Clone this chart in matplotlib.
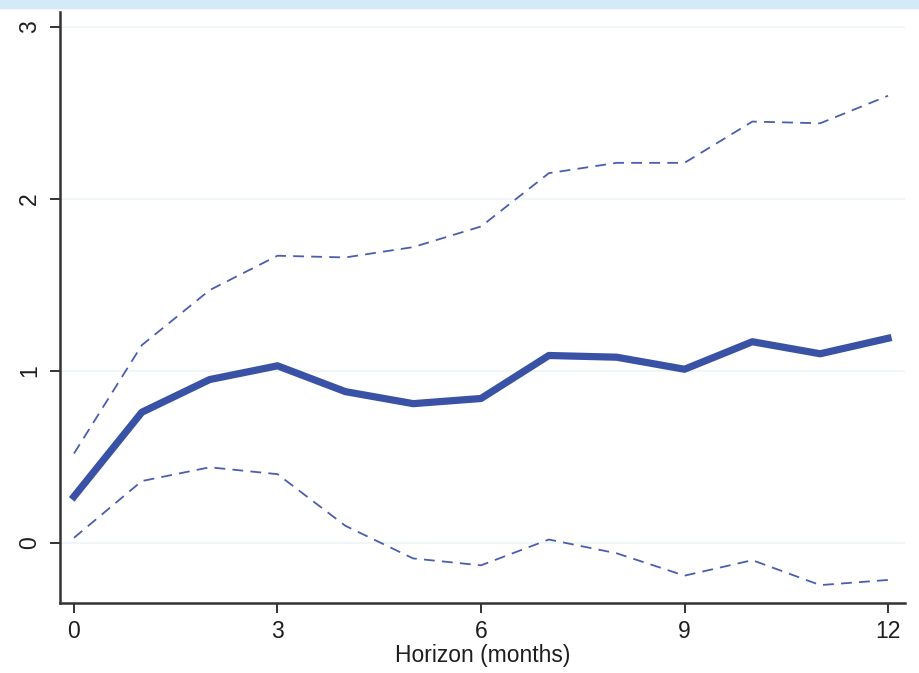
import matplotlib
matplotlib.use("Agg")
import matplotlib.pyplot as plt
from matplotlib.patches import Rectangle

plt.rcParams["font.family"] = ["Liberation Sans", "DejaVu Sans"]

horizon = list(range(13))
irf = [0.27, 0.76, 0.95, 1.03, 0.88, 0.81, 0.84, 1.09, 1.08, 1.01, 1.17, 1.10, 1.19]
upper = [0.52, 1.15, 1.47, 1.67, 1.66, 1.72, 1.84, 2.15, 2.21, 2.21, 2.45, 2.44, 2.60]
lower = [0.03, 0.36, 0.44, 0.40, 0.10, -0.09, -0.13, 0.02, -0.06, -0.19, -0.10, -0.245, -0.215]
xticks = [0, 3, 6, 9, 12]
yticks = [0, 1, 2, 3]

NAVY = "#3A52A6"; DASH = "#4B5DB0"; GRID = "#EEF5F6"; INK = "#333333"; TXT = "#1E1E1E"

fig = plt.figure(figsize=(9.19, 6.73), dpi=100)
fig.patch.set_facecolor("white")
# light blue strip along the top edge
fig.patches.append(Rectangle((0, 1 - 8 / 673), 1, 8 / 673, transform=fig.transFigure,
                             color="#D4EAF7", zorder=0))

ax = fig.add_axes([60 / 919, 70 / 673, 845 / 919, 591 / 673])
ax.set_xlim(-0.206, 12.25)
ax.set_ylim(-0.349, 3.087)

for y in yticks:
    ax.axhline(y, color=GRID, lw=1.2, zorder=1)

ax.plot(horizon, upper, color=DASH, lw=1.3, ls=(0, (6, 4)), zorder=2)
ax.plot(horizon, lower, color=DASH, lw=1.3, ls=(0, (6, 4)), zorder=2)
ax.plot(horizon, irf, color=NAVY, lw=5.2, solid_joinstyle="round", zorder=3)

ax.set_xticks(xticks)
ax.set_yticks(yticks)
ax.set_yticklabels([str(v) for v in yticks], rotation=90, va="center")
ax.tick_params(axis="both", direction="out", length=7.5, width=1.4, color=INK,
               labelsize=16.5, labelcolor=TXT)
ax.tick_params(axis="x", pad=5)
ax.tick_params(axis="y", pad=6)
for s in ["top", "right"]:
    ax.spines[s].set_visible(False)
for s in ["left", "bottom"]:
    ax.spines[s].set_color(INK)
    ax.spines[s].set_linewidth(1.8)

ax.set_xlabel("Horizon (months)", fontsize=16.5, color=TXT, labelpad=0.5)

fig.savefig("out.png", dpi=100, facecolor="white")
